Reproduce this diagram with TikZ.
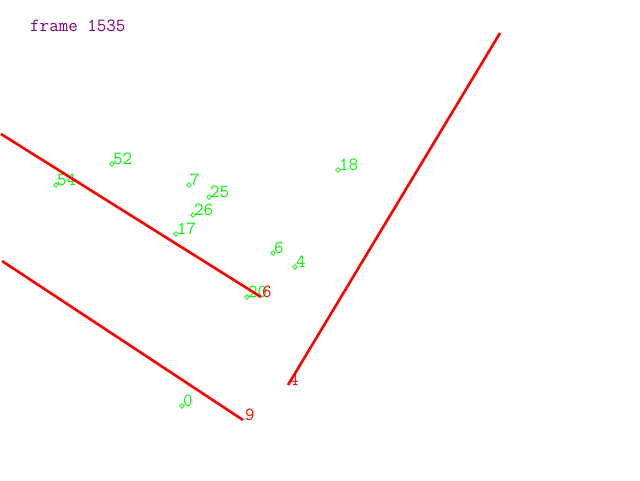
\documentclass[tikz,border=0pt]{standalone}
\usetikzlibrary{shapes.geometric}
\definecolor{ptgreen}{RGB}{0,245,0}
\definecolor{framecol}{RGB}{128,0,128}

\begin{document}
\begin{tikzpicture}[x=1pt, y=-1pt,
    every node/.style={font=\fontsize{18.5}{20}\selectfont\ttfamily, inner sep=0pt},
    pt/.style={draw=ptgreen, shape=diamond, minimum size=5pt, line width=0.7pt},
    ptlab/.style={text=ptgreen, anchor=base west},
    wall/.style={draw=red, line width=2.6pt},
    endlab/.style={text=red, anchor=base west}]
  \useasboundingbox (0,0) rectangle (640,480);
  \node[text=framecol, anchor=base west] (title) at (30,31) {frame 1535};
  % tracked points
  \foreach \n/\x/\y in {54/56/185, 52/112/164, 7/189/185, 25/209/197, 26/193/215,
      17/176/234, 6/273/253, 4/295/267, 18/338/170, 20/247/297, 0/182/406}{
    \node[pt] (p\n) at (\x,\y) {};
    \node[ptlab] (t\n) at ([xshift=1pt]p\n.center) {\n};
  }
  % walls
  \coordinate (a1) at (1,134);
  \coordinate (a2) at (261,297);
  \coordinate (b1) at (2,261);
  \coordinate (b2) at (243,420);
  \coordinate (c1) at (500,33);
  \coordinate (c2) at (288,385);
  \draw[wall] (a1) -- (a2);
  \draw[wall] (b1) -- (b2);
  \draw[wall] (c1) -- (c2);
  \node[endlab] (e6) at ([xshift=1pt]a2) {6};
  \node[endlab] (e9) at ([xshift=2pt]b2) {9};
  \node[endlab] (e4) at ([xshift=1pt]c2) {4};
\end{tikzpicture}
\end{document}
